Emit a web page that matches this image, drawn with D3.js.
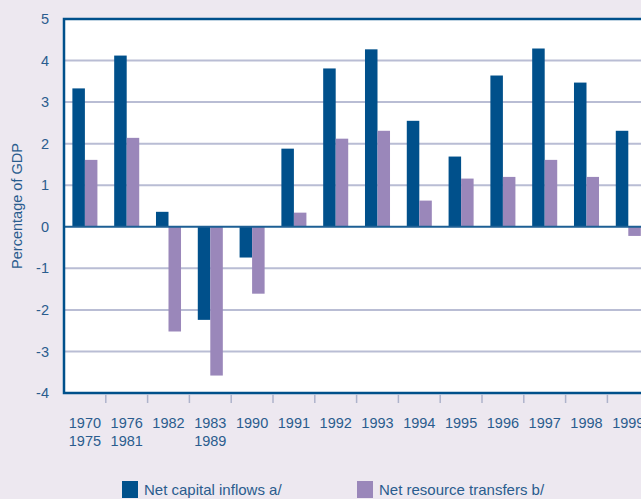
<!DOCTYPE html>
<html>
<head>
<meta charset="utf-8">
<script src="https://cdn.jsdelivr.net/npm/d3@7"></script>
<style>
  body { margin: 0; background: #ede8f0; }
  svg { display: block; }
  text { font-family: "Liberation Sans", Arial, sans-serif; fill: #2a5c8e; }
</style>
</head>
<body>
<svg id="chart" width="641" height="499"></svg>
<script>
// periods on the x axis (two-line labels split on "\n")
const periods = ["1970\n1975", "1976\n1981", "1982", "1983\n1989", "1990", "1991", "1992",
                 "1993", "1994", "1995", "1996", "1997", "1998", "1999"];
const capitalInflows = [3.33, 4.12, 0.36, -2.24, -0.74, 1.88, 3.81, 4.27, 2.55, 1.69, 3.64, 4.29, 3.47, 2.31];
const resourceTransfers = [1.61, 2.14, -2.52, -3.58, -1.61, 0.34, 2.12, 2.31, 0.63, 1.16, 1.2, 1.61, 1.2, -0.22];
const seriesNames = ["Net capital inflows a/", "Net resource transfers b/"];
const yTicks = [-4, -3, -2, -1, 0, 1, 2, 3, 4, 5];

const colors = ["#00508b", "#9a87ba"];

const svg = d3.select("#chart");
const plotLeft = 64, plotTop = 19, plotBottom = 393;
const step = 41.8;

const x = d3.scaleBand()
    .domain(periods)
    .range([plotLeft, plotLeft + step * periods.length])
    .padding(0);

const x1 = d3.scaleBand()
    .domain(seriesNames)
    .range([0, x.bandwidth()])
    .paddingInner(0)
    .paddingOuter(0.67);

const y = d3.scaleLinear().domain([-4, 5]).range([plotBottom, plotTop]);

const rows = periods.map((p, i) => ({
    period: p,
    values: [capitalInflows[i], resourceTransfers[i]]
}));

// plot background
svg.append("rect")
    .attr("x", plotLeft).attr("y", plotTop)
    .attr("width", 700 - plotLeft).attr("height", plotBottom - plotTop)
    .attr("fill", "#fff");

// gridlines
svg.append("g")
    .selectAll("line")
    .data(yTicks.filter(t => t !== 0 && t !== -4 && t !== 5))
    .enter().append("line")
    .attr("x1", plotLeft).attr("x2", 700)
    .attr("y1", d => y(d)).attr("y2", d => y(d))
    .attr("stroke", "#b9bdd4")
    .attr("stroke-width", 2);

// bars
const groups = svg.append("g")
    .selectAll("g")
    .data(rows)
    .enter().append("g")
    .attr("transform", d => `translate(${x(d.period)},0)`);

groups.selectAll("rect")
    .data(d => d.values.map((v, k) => ({ key: seriesNames[k], value: v, k })))
    .enter().append("rect")
    .attr("x", d => x1(d.key))
    .attr("width", x1.bandwidth())
    .attr("y", d => y(Math.max(0, d.value)))
    .attr("height", d => Math.abs(y(d.value) - y(0)))
    .attr("fill", d => colors[d.k]);

// zero line
svg.append("line")
    .attr("x1", plotLeft).attr("x2", 700)
    .attr("y1", y(0)).attr("y2", y(0))
    .attr("stroke", "#1d5f94")
    .attr("stroke-width", 2);

// frame: top, left, bottom
svg.append("path")
    .attr("d", `M700,${plotTop}H${plotLeft}V${plotBottom}H700`)
    .attr("fill", "none")
    .attr("stroke", "#00508b")
    .attr("stroke-width", 2.5);

// y axis labels (plain hyphen for negatives, like the original)
const yAxis = d3.axisLeft(y).tickValues(yTicks).tickSize(0).tickPadding(15)
    .tickFormat(d => String(d));
const gy = svg.append("g").attr("transform", `translate(${plotLeft},0)`).call(yAxis);
gy.select(".domain").remove();
gy.selectAll("text")
    .attr("font-size", 14.5)
    .attr("font-family", null)
    .attr("fill", "#2a5c8e");

// x tick marks at band boundaries
svg.append("g")
    .selectAll("line")
    .data(periods.slice(1))
    .enter().append("line")
    .attr("x1", d => x(d)).attr("x2", d => x(d))
    .attr("y1", plotBottom + 1.5).attr("y2", plotBottom + 10)
    .attr("stroke", "#aeb3cb")
    .attr("stroke-width", 1.5);

// x labels
const xl = svg.append("g")
    .selectAll("text")
    .data(periods)
    .enter().append("text")
    .attr("text-anchor", "middle")
    .attr("font-size", 14.5)
    .attr("x", d => x(d) + x.bandwidth() / 2)
    .attr("y", 428);

xl.selectAll("tspan")
    .data(d => d.split("\n").map(s => ({ s, parent: d })))
    .enter().append("tspan")
    .attr("x", d => x(d.parent) + x.bandwidth() / 2)
    .attr("dy", (d, i) => i === 0 ? 0 : 18)
    .text(d => d.s);

// y axis title
svg.append("text")
    .attr("transform", `translate(22,${(plotTop + plotBottom) / 2}) rotate(-90)`)
    .attr("text-anchor", "middle")
    .attr("font-size", 14.5)
    .text("Percentage of GDP");

// legend
const legendX = [122, 357];
const legend = svg.append("g")
    .selectAll("g")
    .data(seriesNames)
    .enter().append("g")
    .attr("transform", (d, i) => `translate(${legendX[i]},481)`);

legend.append("rect")
    .attr("width", 16).attr("height", 17)
    .attr("fill", (d, i) => colors[i]);

legend.append("text")
    .attr("x", 22)
    .attr("y", 14)
    .attr("font-size", 15)
    .text(d => d);
</script>
</body>
</html>
